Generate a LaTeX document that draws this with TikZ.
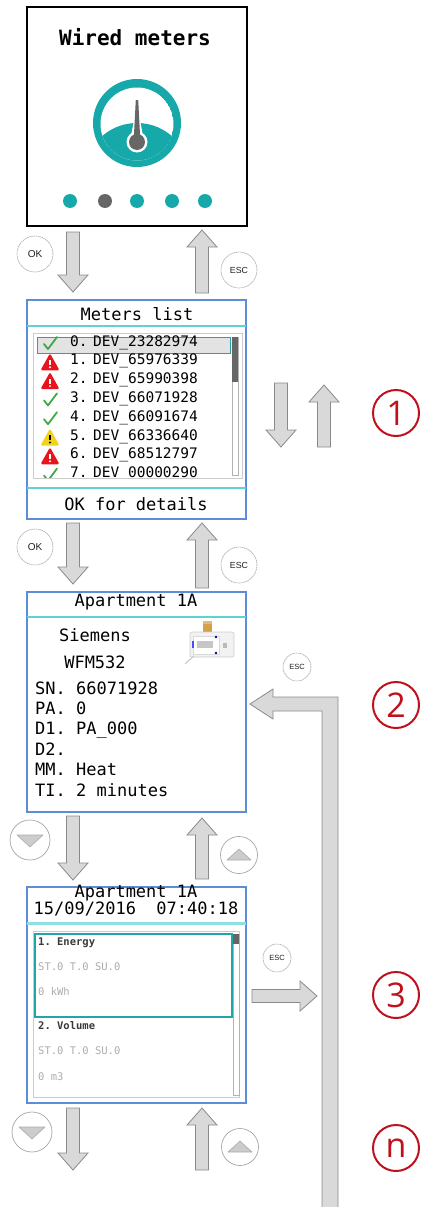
\documentclass[tikz,border=0pt]{standalone}
\usepackage{fontspec}
\setmonofont{DejaVu Sans Mono}
\newfontfamily\numfont{Open Sans}
\newfontfamily\keyfont{Liberation Sans}
\usetikzlibrary{calc}

\definecolor{gaugeteal}{HTML}{17A8AA}
\definecolor{darkneedle}{HTML}{666666}
\definecolor{rulecyan}{HTML}{5ED3D3}
\definecolor{frameblue}{HTML}{5B8ED6}
\definecolor{arrowfill}{HTML}{D9D9D9}
\definecolor{arrowedge}{HTML}{8A8A8A}
\definecolor{stepred}{HTML}{C0101C}
\definecolor{okgreen}{HTML}{3DAA45}
\definecolor{warnred}{HTML}{E8141C}
\definecolor{warnyellow}{HTML}{F2D21A}
\definecolor{hilite}{HTML}{20A6A6}
\definecolor{meterbrass}{HTML}{D4A04A}

% block arrow between two named coordinates
\def\bahead{17pt}\def\bashaft{6.5pt}\def\bawing{15pt}
\newcommand\blockarrow[2]{%
  \coordinate (bah) at ($(#2)!\bahead!(#1)$);
  \filldraw[garrow] ($(#1)!\bashaft!90:(#2)$) -- ($(bah)!\bashaft!90:(#2)$)
    -- ($(bah)!\bawing!90:(#2)$) -- (#2) -- ($(bah)!\bawing!-90:(#2)$)
    -- ($(bah)!\bashaft!-90:(#2)$) -- ($(#1)!\bashaft!-90:(#2)$) -- cycle;}

% status icons of the meters list
\newcommand\okmark[1]{\draw[okgreen, line width=1.8pt, line cap=round, line join=round]
  ($(#1)+(-6,0)$) -- ($(#1)+(-2,5)$) -- ($(#1)+(7,-7)$);}
\newcommand\warnmark[3]{%
  \fill[#2, rounded corners=1.5pt] ($(#1)+(0,-9.5)$) -- ($(#1)+(9.5,7.5)$) -- ($(#1)+(-9.5,7.5)$) -- cycle;
  \fill[#3] ($(#1)+(-1,-3)$) rectangle ($(#1)+(1,2.2)$);
  \fill[#3] ($(#1)+(0,4.5)$) circle[radius=1.1];}
\newcommand\redwarn[1]{\warnmark{#1}{warnred}{white}}
\newcommand\yellowwarn[1]{\warnmark{#1}{warnyellow}{black}}

\begin{document}
\begin{tikzpicture}[x=1pt, y=-1pt,
  screen/.style={minimum width=219, minimum height=219, inner sep=0, outer sep=0,
    anchor=north west},
  blackscreen/.style={screen, minimum width=220, draw=black, line width=1.4pt},
  bluescreen/.style={screen, draw=frameblue, line width=1.2pt},
  garrow/.style={fill=arrowfill, draw=arrowedge, line width=0.8pt, line join=miter},
  keybtn/.style={circle, draw=gray!70, line width=0.6pt, dash pattern=on 1.4pt off 0.6pt,
    fill=white, minimum size=36, inner sep=0, text=gray!25!black,
    font=\keyfont\fontsize{10}{10}\selectfont},
  escbtn/.style={keybtn, font=\keyfont\fontsize{8.8}{8.8}\selectfont},
  escsmall/.style={keybtn, minimum size=28, font=\keyfont\fontsize{7.5}{7.5}\selectfont},
  tributton/.style={circle, draw=gray!70, line width=0.7pt, fill=white, inner sep=0},
  trifill/.style={fill=gray!40, draw=gray!65, line width=0.6pt, line join=round},
  stepnum/.style={circle, draw=stepred, line width=2pt, minimum size=46, inner sep=0,
    text=stepred, font=\numfont\fontsize{34}{34}\selectfont},
  lcd/.style={inner sep=0, font=\ttfamily\fontsize{17}{17}\selectfont},
  lcdtitle/.style={inner sep=0, font=\ttfamily\bfseries\fontsize{21}{21}\selectfont},
  rowtext/.style={inner sep=0, anchor=mid west, font=\ttfamily\fontsize{14.5}{14.5}\selectfont},
  smalltext/.style={inner sep=0, anchor=mid west, text=gray!65,
    font=\ttfamily\fontsize{10.5}{10.5}\selectfont},
  smallhead/.style={smalltext, text=gray!45!black, font=\ttfamily\bfseries\fontsize{10.5}{10.5}\selectfont},
  cyanrule/.style={rulecyan, line width=1.8pt},
  listframe/.style={draw=gray!40, line width=1pt},
]
\useasboundingbox (0,0) rectangle (422,1207);

% ---------- screens ----------
\node[blackscreen] (s1) at (27,7) {};
\node[bluescreen]  (s2) at (27,300) {};
\node[bluescreen, minimum height=220] (s3) at (27,592) {};
\node[bluescreen, minimum height=216] (s4) at (27,887) {};

% ---------- screen 1: menu page ----------
\node[lcdtitle] (s1title) at (135,37) {Wired meters};
\fill[gaugeteal] (137,123) circle[radius=44];
\begin{scope}
  \clip (137,124) circle[radius=36.5];
  \fill[white] (137,124) circle[radius=36.5];
  \fill[gaugeteal] (137,176) circle[radius=53];
\end{scope}
\fill[white] (134,120) -- (140,120) -- (143,136) -- (131,136) -- cycle;
\fill[white] (137,142) circle[radius=10.5];
\fill[darkneedle] (135.8,100) -- (138.2,100) -- (140.2,138) -- (133.8,138) -- cycle;
\fill[darkneedle] (137,142) circle[radius=8];
\foreach \dx/\dc in {70/gaugeteal, 105/darkneedle, 137/gaugeteal, 172/gaugeteal, 205/gaugeteal}
  \fill[\dc] (\dx,201) circle[radius=7];

% ---------- screen 2: meters list ----------
\node[lcd] (s2title) at (137,314) {Meters list};
\draw[cyanrule] (s2.west |- 0,326) -- (s2.east |- 0,326);
\draw[listframe] (33,333) rectangle (242,478);
\draw[gray!60, line width=0.6pt] (232,337) rectangle (238,475);
\fill[darkneedle] (232,337) rectangle (238,382);
\filldraw[fill=gray!22, draw=hilite, line width=1pt] (37,337) rectangle (230,353);
\begin{scope}
  \clip (34,334) rectangle (231,477);
  \foreach \i/\dev/\icon in {0/23282974/\okmark, 1/65976339/\redwarn, 2/65990398/\redwarn,
      3/66071928/\okmark, 4/66091674/\okmark, 5/66336640/\yellowwarn,
      6/68512797/\redwarn, 7/00000290/\okmark} {
    \coordinate (ic\i) at (50,344+18.8*\i);
    \icon{ic\i}
    \node[rowtext] (row\i) at (70,344+18.8*\i) {\i.\hspace{5.5pt}DEV\_\dev};
  }
\end{scope}
\draw[cyanrule] (s2.west |- 0,488) -- (s2.east |- 0,488);
\node[lcd] (s2foot) at (136,504) {OK for details};

% ---------- screen 3: meter details ----------
\node[lcd] (s3title) at (136,602) {Apartment 1A};
\draw[rulecyan, line width=1.4pt] (s3.west |- 0,617) -- (s3.east |- 0,617);
\node[lcd] (maker) at (95,635) {Siemens};
\node[lcd] (model) at (95,662) {WFM532};
% meter picture
\fill[meterbrass] (203,621) rectangle (212,633);
\fill[meterbrass!70!white] (203,621) rectangle (212,624);
\filldraw[fill=gray!10, draw=gray!40, line width=0.6pt, rounded corners=2pt] (190,632) rectangle (234,657);
\filldraw[fill=white, draw=gray!30, line width=0.5pt] (193,636) rectangle (219,654);
\fill[gray!45] (197,641) rectangle (213,648);
\fill[gray!55] (223,643) rectangle (227,648);
\fill[blue!60!black] (216,637) circle[radius=1.3];
\fill[blue!60!black] (216,653) circle[radius=1.3];
\fill[blue!70] (192,641) rectangle (193.5,648);
\draw[gray!45, line width=1pt] (194,656) .. controls (190,660) and (187,661) .. (185,664);
\foreach \txt [count=\k from 0] in {SN. 66071928, PA. 0, D1. PA\_000, D2., MM. Heat, TI. 2 minutes}
  \node[lcd, anchor=mid west] (info\k) at (35,692+20.4*\k) {\txt};

% ---------- screen 4: readings ----------
\node[lcd] (s4title) at (136,893) {Apartment 1A};
\node[lcd] (s4date) at (136,909) {15/09/2016~~07:40:18};
\draw[rulecyan!70!white, line width=3pt] (s4.west |- 0,923) -- (s4.east |- 0,923);
\draw[listframe] (33,931) rectangle (239,1097);
\draw[gray!60, line width=0.6pt] (233,934) rectangle (239,1095);
\fill[darkneedle] (233,934) rectangle (239,944);
\draw[hilite, line width=1.3pt] (35,934) rectangle (232,1017);
\node[smallhead] (v1) at (38,943) {1. Energy};
\node[smalltext] (v1s) at (38,968) {ST.0 T.0 SU.0};
\node[smalltext] (v1v) at (38,993) {0 kWh};
\node[smallhead] (v2) at (38,1027) {2. Volume};
\node[smalltext] (v2s) at (38,1052) {ST.0 T.0 SU.0};
\node[smalltext] (v2v) at (38,1078) {0 m3};

% ---------- navigation arrows between screens ----------
\coordinate (d1s) at ($(s1.south west)+(46,6)$);   \coordinate (d1e) at ($(s2.north west)+(46,-8)$);
\coordinate (u1s) at ($(s2.north west)+(175,-7)$); \coordinate (u1e) at ($(s1.south west)+(175,4)$);
\coordinate (d2s) at ($(s2.south west)+(46,4)$);   \coordinate (d2e) at ($(s3.north west)+(46,-8)$);
\coordinate (u2s) at ($(s3.north west)+(175,-4)$); \coordinate (u2e) at ($(s2.south west)+(175,4)$);
\coordinate (d3s) at ($(s3.south west)+(46,4)$);   \coordinate (d3e) at ($(s4.north west)+(46,-7)$);
\coordinate (u3s) at ($(s4.north west)+(175,-8)$); \coordinate (u3e) at ($(s3.south west)+(175,6)$);
\coordinate (d4s) at ($(s4.south west)+(46,5)$);   \coordinate (d4e) at (73,1170);
\coordinate (u4s) at (202,1170);                    \coordinate (u4e) at ($(s4.south west)+(175,5)$);
\blockarrow{d1s}{d1e} \blockarrow{u1s}{u1e}
\blockarrow{d2s}{d2e} \blockarrow{u2s}{u2e}
\blockarrow{d3s}{d3e} \blockarrow{u3s}{u3e}
\blockarrow{d4s}{d4e} \blockarrow{u4s}{u4e}

% keys beside the arrows
\node[keybtn] (ok1) at (35,254) {OK};
\node[escbtn] (esc1) at (239,270) {ESC};
\node[keybtn] (ok2) at (35,547) {OK};
\node[escbtn] (esc2) at (239,565) {ESC};
\node[tributton, minimum size=40] (dn3) at (30,840) {};
\filldraw[trifill] ($(dn3)+(-13,-5)$) -- ($(dn3)+(13,-5)$) -- ($(dn3)+(0,7)$) -- cycle;
\node[tributton, minimum size=37] (up3) at (239,855) {};
\filldraw[trifill] ($(up3)+(-12,5)$) -- ($(up3)+(12,5)$) -- ($(up3)+(0,-6)$) -- cycle;
\node[tributton, minimum size=40] (dn4) at (32,1132) {};
\filldraw[trifill] ($(dn4)+(-13,-5)$) -- ($(dn4)+(13,-5)$) -- ($(dn4)+(0,7)$) -- cycle;
\node[tributton, minimum size=37] (up4) at (240,1147) {};
\filldraw[trifill] ($(up4)+(-12,5)$) -- ($(up4)+(12,5)$) -- ($(up4)+(0,-6)$) -- cycle;

% ---------- right-hand column ----------
\coordinate (p1s) at (281,383); \coordinate (p1e) at (281,447);
\coordinate (q1s) at (324,447); \coordinate (q1e) at (324,385);
\blockarrow{p1s}{p1e} \blockarrow{q1s}{q1e}

% ESC return bar back to the details screen
\coordinate (ltip) at ($(s3.east)+(4,2)$);
\fill[arrowfill] (338,1207) -- (338,697) -- (273,697) -- (273,689) -- (ltip)
  -- (273,719) -- (273,711) -- (322,711) -- (322,1207) -- cycle;
\draw[arrowedge, line width=0.8pt] (322,1207) -- (322,711) -- (273,711) -- (273,719)
  -- (ltip) -- (273,689) -- (273,697) -- (338,697) -- (338,1207);
\node[escsmall] (esc3) at (297,667) {ESC};

\coordinate (e4s) at ($(s4.east)+(6,1)$); \coordinate (e4e) at (317,996);
\blockarrow{e4s}{e4e}
\node[escsmall] (esc4) at (277,958) {ESC};

% step numbers
\node[stepnum] (n1) at (396,413) {1};
\node[stepnum] (n2) at (396,705) {2};
\node[stepnum] (n3) at (396,995) {3};
\node[stepnum] (n4) at (396,1148) {n};
\end{tikzpicture}
\end{document}
